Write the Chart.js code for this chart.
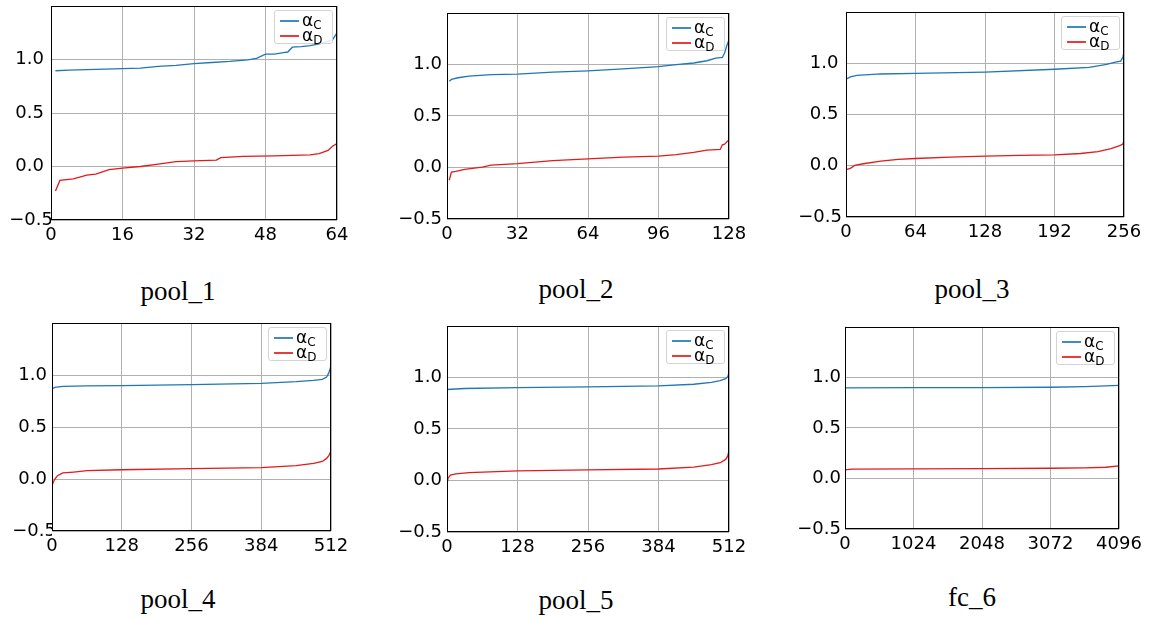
<!DOCTYPE html>
<html>
<head>
<meta charset="utf-8">
<script src="https://cdn.jsdelivr.net/npm/chart.js@4.4.1/dist/chart.umd.min.js"></script>
<style>
  body { margin: 0; background: #fff; width: 1154px; height: 621px; position: relative; overflow: hidden; font-family: "DejaVu Sans", sans-serif; }
  .panel { position: absolute; }
  .title { position: absolute; font-family: "Liberation Serif", serif; font-size: 27px; line-height: 27px; white-space: nowrap; transform: translateX(-50%); color: #000; }
  .legend { position: absolute; background: rgba(255,255,255,0.85); border: 1px solid #d4d4d4; border-radius: 3px; box-sizing: border-box; }
  .legend .ln { position: absolute; left: 5px; width: 19px; height: 2px; opacity: 0.85; }
  .legend .tx { position: absolute; left: 27px; font-size: 17px; line-height: 16px; color: #000; white-space: nowrap; }
  .legend sub { font-size: 12px; vertical-align: -3px; line-height: 0; }
</style>
</head>
<body>
<script>
// shared axis values
const yTicks = [-0.5, 0, 0.5, 1.0];
const legendSubs = ['C', 'D'];

// pool_1
const pool1Ticks = [0, 16, 32, 48, 64];
const pool1XC = [1, 4, 8, 12, 16, 20, 24, 28, 32, 36, 40, 44, 46, 48, 50, 52, 53, 54, 56, 58, 60, 62, 63, 64];
const pool1YC = [0.895, 0.9, 0.905, 0.91, 0.915, 0.92, 0.935, 0.945, 0.962, 0.972, 0.982, 0.997, 1.01, 1.05, 1.05, 1.065, 1.07, 1.115, 1.12, 1.13, 1.145, 1.17, 1.185, 1.25];
const pool1XD = [1, 2, 5, 8, 10, 13, 16, 20, 24, 28, 32, 37, 38, 43, 50, 58, 60, 62, 63, 64];
const pool1YD = [-0.23, -0.13, -0.115, -0.08, -0.072, -0.03, -0.016, 0.0, 0.022, 0.045, 0.053, 0.06, 0.083, 0.094, 0.1, 0.108, 0.12, 0.15, 0.19, 0.215];

// pool_2
const pool2Ticks = [0, 32, 64, 96, 128];
const pool2XC = [1, 2, 5, 10, 20, 32, 48, 64, 80, 96, 104, 112, 118, 122, 125, 126, 127, 128];
const pool2YC = [0.835, 0.854, 0.87, 0.886, 0.9, 0.905, 0.924, 0.937, 0.956, 0.978, 0.997, 1.013, 1.035, 1.06, 1.067, 1.11, 1.18, 1.24];
const pool2XD = [1, 2, 4, 8, 16, 20, 32, 48, 64, 80, 96, 104, 112, 118, 124, 125, 126, 128];
const pool2YD = [-0.124, -0.044, -0.038, -0.019, 0.003, 0.022, 0.038, 0.067, 0.083, 0.1, 0.11, 0.124, 0.146, 0.168, 0.175, 0.22, 0.225, 0.27];

// pool_3
const pool3Ticks = [0, 64, 128, 192, 256];
const pool3XC = [0, 4, 10, 32, 64, 128, 192, 224, 240, 248, 253, 255, 256];
const pool3YC = [0.843, 0.865, 0.88, 0.894, 0.9, 0.913, 0.94, 0.958, 0.987, 1.01, 1.02, 1.06, 1.105];
const pool3XD = [0, 4, 8, 16, 32, 48, 64, 96, 128, 160, 192, 216, 232, 244, 252, 255, 256];
const pool3YD = [-0.038, -0.026, 0.003, 0.019, 0.045, 0.061, 0.07, 0.083, 0.093, 0.1, 0.106, 0.119, 0.138, 0.167, 0.196, 0.21, 0.25];

// pool_4
const pool4Ticks = [0, 128, 256, 384, 512];
const pool4XC = [0, 5, 20, 64, 128, 256, 384, 448, 480, 496, 504, 508, 512];
const pool4YC = [0.866, 0.88, 0.891, 0.895, 0.898, 0.907, 0.92, 0.936, 0.949, 0.958, 0.98, 1.02, 1.09];
const pool4XD = [0, 2, 5, 10, 20, 40, 64, 128, 256, 384, 448, 480, 496, 504, 508, 512];
const pool4YD = [-0.073, -0.035, -0.003, 0.032, 0.058, 0.067, 0.08, 0.089, 0.099, 0.109, 0.128, 0.15, 0.169, 0.198, 0.224, 0.27];

// pool_5
const pool5Ticks = [0, 128, 256, 384, 512];
const pool5XC = [0, 32, 128, 256, 384, 448, 480, 496, 506, 510, 512];
const pool5YC = [0.882, 0.892, 0.901, 0.908, 0.917, 0.933, 0.952, 0.968, 0.987, 1.01, 1.05];
const pool5XD = [0, 2, 6, 16, 40, 128, 256, 384, 448, 480, 496, 506, 510, 512];
const pool5YD = [-0.035, 0.022, 0.051, 0.064, 0.076, 0.092, 0.102, 0.111, 0.13, 0.153, 0.172, 0.204, 0.24, 0.293];

// fc_6
const fc6Ticks = [0, 1024, 2048, 3072, 4096];
const fc6XC = [0, 1024, 2048, 3072, 3584, 3900, 4096];
const fc6YC = [0.895, 0.899, 0.899, 0.902, 0.908, 0.915, 0.92];
const fc6XD = [0, 100, 1024, 2048, 3072, 3584, 3900, 4096];
const fc6YD = [0.085, 0.092, 0.095, 0.098, 0.101, 0.105, 0.111, 0.124];

const BLUE = '#1f77b4';
const RED = '#e31a1c';

const panels = [
  { name: 'pool_1', ticks: pool1Ticks, xC: pool1XC, yC: pool1YC, xD: pool1XD, yD: pool1YD },
  { name: 'pool_2', ticks: pool2Ticks, xC: pool2XC, yC: pool2YC, xD: pool2XD, yD: pool2YD },
  { name: 'pool_3', ticks: pool3Ticks, xC: pool3XC, yC: pool3YC, xD: pool3XD, yD: pool3YD },
  { name: 'pool_4', ticks: pool4Ticks, xC: pool4XC, yC: pool4YC, xD: pool4XD, yD: pool4YD },
  { name: 'pool_5', ticks: pool5Ticks, xC: pool5XC, yC: pool5YC, xD: pool5XD, yD: pool5YD },
  { name: 'fc_6',   ticks: fc6Ticks,   xC: fc6XC,   yC: fc6YC,   xD: fc6XD,   yD: fc6YD }
];

// plot area boxes on the page (left, top, right, bottom), caption spot,
// gap of y labels and how far the -0.5 label sits to the right of the others
const layout = [
  { L: 51,  T: 6,   R: 337,  B: 220, cx: 178, base: 301, gap: 7, negShift: '\u2002', shiftPx: 9 },
  { L: 447, T: 9,   R: 729,  B: 219, cx: 576, base: 299, gap: 5, negShift: '', shiftPx: 0 },
  { L: 846, T: 9,   R: 1124, B: 217, cx: 972, base: 299, gap: 8, negShift: '\u2009', shiftPx: 4 },
  { L: 52,  T: 323, R: 331,  B: 531, cx: 178, base: 609, gap: 5, negShift: '\u2002', shiftPx: 9 },
  { L: 447, T: 322, R: 729,  B: 532, cx: 576, base: 610, gap: 5, negShift: '', shiftPx: 0 },
  { L: 845, T: 324, R: 1119, B: 529, cx: 972, base: 607, gap: 4, negShift: '', shiftPx: 0 }
];

const PAD_L = 50, PAD_T = 12, PAD_R = 30, X_H = 30, PAD_B = 4;

// black box around the plot, like matplotlib spines
const framePlugin = {
  id: 'frame',
  afterDraw(chart) {
    const { ctx, chartArea: a } = chart;
    ctx.save();
    ctx.strokeStyle = '#000';
    ctx.lineWidth = 1;
    ctx.strokeRect(Math.round(a.left) + 0.5, Math.round(a.top) + 0.5,
      Math.round(a.right) - Math.round(a.left) - 1, Math.round(a.bottom) - Math.round(a.top) - 1);
    ctx.restore();
  }
};

// html legend so the subscripts stay real text
const htmlLegend = {
  id: 'htmlLegend',
  afterDraw(chart) {
    if (chart.$legendDone) return;
    chart.$legendDone = true;
    const a = chart.chartArea;
    const wrap = chart.canvas.parentNode;
    const box = document.createElement('div');
    box.className = 'legend';
    box.style.left = Math.round(a.right - 4 - 59) + 'px';
    box.style.top = Math.round(a.top + 4) + 'px';
    box.style.width = '59px';
    box.style.height = '34px';
    chart.data.datasets.forEach((ds, i) => {
      const ln = document.createElement('div');
      ln.className = 'ln';
      ln.style.top = (9 + 15 * i) + 'px';
      ln.style.backgroundColor = ds.borderColor;
      const tx = document.createElement('div');
      tx.className = 'tx';
      tx.style.top = (1 + 15 * i) + 'px';
      tx.innerHTML = 'α<sub>' + legendSubs[i] + '</sub>';
      box.appendChild(ln);
      box.appendChild(tx);
    });
    wrap.appendChild(box);
  }
};

function makeChart(p, lay) {
  const w = (lay.R - lay.L) + PAD_L + PAD_R;
  const h = (lay.B - lay.T) + PAD_T + X_H + PAD_B;
  const wrap = document.createElement('div');
  wrap.className = 'panel';
  wrap.style.left = (lay.L - PAD_L) + 'px';
  wrap.style.top = (lay.T - PAD_T) + 'px';
  wrap.style.width = w + 'px';
  wrap.style.height = h + 'px';
  const canvas = document.createElement('canvas');
  canvas.width = w;
  canvas.height = h;
  wrap.appendChild(canvas);
  document.body.appendChild(wrap);

  const tickFont = { family: 'DejaVu Sans', size: 18 };
  const grid = { color: '#b0b0b0', lineWidth: 1, drawTicks: false };

  // matplotlib pads the non-negative labels less; mimic with a trailing space
  const yLabel = v => v < 0 ? '\u2212' + Math.abs(v).toFixed(1) : v.toFixed(1) + lay.negShift;

  new Chart(canvas, {
    type: 'line',
    data: {
      datasets: [
        { label: 'αC', data: p.xC.map((x, i) => ({ x: x, y: p.yC[i] })), borderColor: BLUE, borderWidth: 1.3, pointRadius: 0, fill: false },
        { label: 'αD', data: p.xD.map((x, i) => ({ x: x, y: p.yD[i] })), borderColor: RED, borderWidth: 1.3, pointRadius: 0, fill: false }
      ]
    },
    options: {
      responsive: false,
      animation: false,
      layout: { padding: { left: 0, top: PAD_T, right: PAD_R, bottom: PAD_B } },
      plugins: { legend: { display: false }, tooltip: { enabled: false } },
      scales: {
        x: {
          type: 'linear',
          min: p.ticks[0],
          max: p.ticks[p.ticks.length - 1],
          afterBuildTicks: s => { s.ticks = p.ticks.map(v => ({ value: v })); },
          afterFit: s => { s.height = X_H; },
          ticks: { font: tickFont, color: '#000', padding: 5, maxRotation: 0, autoSkip: false, callback: v => String(v) },
          grid: grid,
          border: { display: false }
        },
        y: {
          min: -0.5,
          max: 1.5,
          afterBuildTicks: s => { s.ticks = yTicks.map(v => ({ value: v })); },
          afterFit: s => { s.width = PAD_L; },
          ticks: { font: tickFont, color: '#000', padding: lay.gap - lay.shiftPx, callback: yLabel },
          grid: grid,
          border: { display: false }
        }
      }
    },
    plugins: [framePlugin, htmlLegend]
  });

  const title = document.createElement('div');
  title.className = 'title';
  title.textContent = p.name;
  title.style.left = lay.cx + 'px';
  title.style.top = (lay.base - 22.6) + 'px';
  document.body.appendChild(title);
}

panels.forEach((p, i) => makeChart(p, layout[i]));
</script>
</body>
</html>
